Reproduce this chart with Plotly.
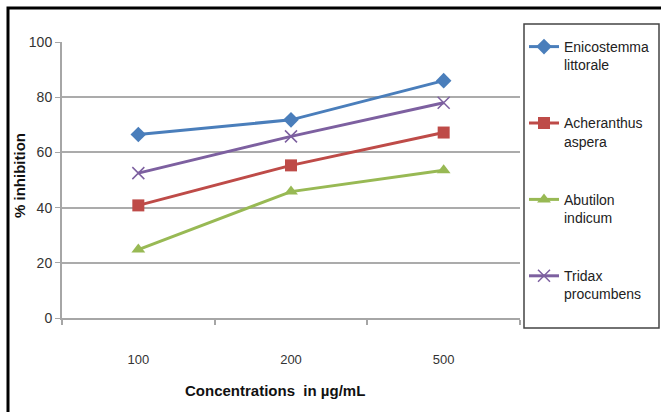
import plotly.graph_objects as go

categories = ["100", "200", "500"]
series_names = ["Enicostemma<br>littorale", "Acheranthus<br>aspera", "Abutilon<br>indicum", "Tridax<br>procumbens"]
enicostemma = [66.5, 71.8, 86.0]
acheranthus = [40.8, 55.3, 67.2]
abutilon = [24.8, 45.8, 53.5]
tridax = [52.5, 65.8, 78.0]
y_ticks = [0, 20, 40, 60, 80, 100]

values = [enicostemma, acheranthus, abutilon, tridax]
colors = ["#4A7EBB", "#BE4B48", "#98B954", "#7D60A0"]
symbols = ["diamond", "square", "triangle-up", "x-thin"]
sizes = [12, 12, 12, 12]

fig = go.Figure()
for i, (name, vals) in enumerate(zip(series_names, values)):
    marker = dict(symbol=symbols[i], size=sizes[i], color=colors[i])
    if symbols[i] == "x-thin":
        marker["line"] = dict(color=colors[i], width=1.5)
    fig.add_trace(go.Scatter(
        x=categories, y=vals, name=name, mode="lines+markers",
        line=dict(color=colors[i], width=3), marker=marker,
        legendgroup=str(i),
    ))

L, R, T, B = 62, 141, 42, 94
W, H = 661, 412
pw, ph = W - L - R, H - T - B

def px_x(x):
    return (x - L) / pw

def px_y(y):
    return 1 - (y - T) / ph

fig.update_layout(
    width=W, height=H,
    margin=dict(l=L, r=R, t=T, b=B, autoexpand=False),
    paper_bgcolor="white", plot_bgcolor="white",
    font=dict(family="Liberation Sans Narrow, Liberation Sans, Arial", color="#333333"),
    showlegend=True,
    legend=dict(
        x=px_x(524), y=px_y(31), xanchor="left", yanchor="top",
        borderwidth=0, bgcolor="rgba(0,0,0,0)",
        font=dict(size=14, color="#222222", family="Liberation Sans Narrow, Liberation Sans, Arial"),
        tracegroupgap=37, valign="top", itemwidth=30,
        traceorder="grouped", maxheight=400,
    ),
    xaxis=dict(
        type="category", tickson="boundaries", showgrid=False,
        showline=True, linecolor="#A6A6A6", linewidth=2,
        ticks="outside", ticklen=5, tickcolor="#A6A6A6", tickwidth=1.5,
        ticklabelstandoff=28,
        tickfont=dict(size=13, color="#333333"),
        range=[-0.5, 2.5], fixedrange=True,
    ),
    yaxis=dict(
        range=[0, 100], tickvals=y_ticks, showgrid=True, gridcolor="#ABABAB", gridwidth=2,
        showline=True, linecolor="#A6A6A6", linewidth=2, zeroline=False,
        ticks="outside", ticklen=5, tickcolor="#A6A6A6",
        tickfont=dict(size=14, color="#333333"),
    ),
    annotations=[
        dict(text="<b>Concentrations  in µg/mL</b>", xref="paper", yref="paper",
             x=px_x(275), y=px_y(390), showarrow=False,
             font=dict(size=15, color="#111111"), xanchor="center", yanchor="middle"),
        dict(text="<b>% inhibition</b>", xref="paper", yref="paper",
             x=px_x(20), y=px_y(176), showarrow=False, textangle=-90,
             font=dict(size=15, color="#111111"), xanchor="center", yanchor="middle"),
    ],
    shapes=[
        dict(type="rect", xref="paper", yref="paper",
             x0=px_x(524), x1=px_x(659), y0=px_y(328), y1=px_y(24),
             line=dict(color="#444444", width=1.5), fillcolor="rgba(0,0,0,0)", layer="above"),
        dict(type="rect", xref="paper", yref="paper",
             x0=px_x(8), x1=px_x(680), y0=px_y(430), y1=px_y(8),
             line=dict(color="black", width=3), layer="above"),
    ],
)

fig.write_html("out.html")
